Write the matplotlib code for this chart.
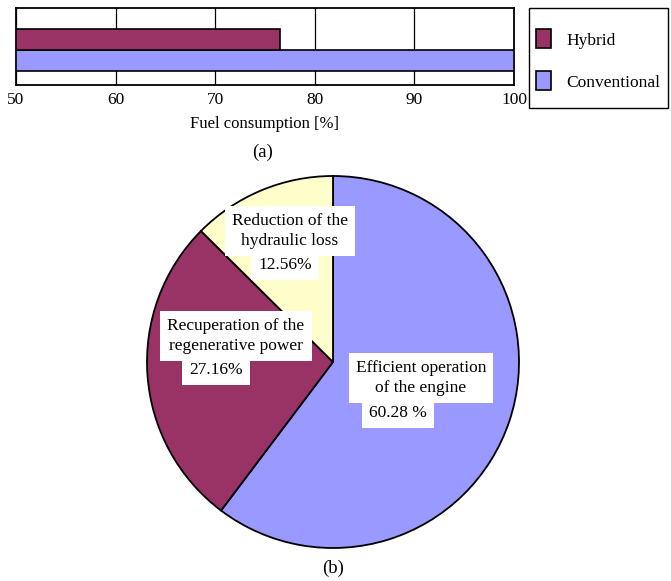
import numpy as np
import matplotlib.pyplot as plt
from matplotlib.patches import Patch, Rectangle

plt.rcParams['font.family'] = ['Liberation Serif', 'DejaVu Serif']

# fuel consumption comparison
bar_names = ['Conventional', 'Hybrid']
bar_values = [100.0, 76.5]
bar_colors = ['#9999ff', '#993366']
x_ticks = [50, 60, 70, 80, 90, 100]

# share of the fuel saving
pie_labels = ['Efficient operation\nof the engine',
              'Recuperation of the\nregenerative power',
              'Reduction of the\nhydraulic loss']
pie_values = [60.28, 27.16, 12.56]
pie_pct_fmt = ['{:.2f} %', '{:.2f}%', '{:.2f}%']
pie_colors = ['#9999ff', '#993366', '#ffffcc']

W, H = 671, 581
fig = plt.figure(figsize=(W / 100, H / 100), dpi=100)

def frac(x0, y0, x1, y1):
    return [x0 / W, 1 - y1 / H, (x1 - x0) / W, (y1 - y0) / H]

# (a) horizontal bars
ax = fig.add_axes(frac(16, 8, 514, 85))
ypos = np.arange(len(bar_values))
ax.barh(ypos, np.array(bar_values) - 50, left=50, height=1.0,
        color=bar_colors, edgecolor='black', linewidth=1.2, zorder=3)
ax.set_xlim(50, 100)
ax.set_ylim(-1.167, 2.5)
ax.set_xticks(x_ticks)
ax.set_yticks([])
ax.tick_params(axis='x', length=0, labelsize=12.5, pad=5)
ax.grid(axis='x', color='black', linewidth=0.9, zorder=0)
for s in ax.spines.values():
    s.set_linewidth(1.3)
ax.set_xlabel('Fuel consumption [%]', fontsize=12, labelpad=6)

# legend drawn in its own frame
fig.patches.append(Rectangle((529 / W, 1 - 108 / H), 139 / W, 100 / H,
                             transform=fig.transFigure, facecolor='white',
                             edgecolor='black', linewidth=1.0))
handles = [Patch(facecolor=bar_colors[1], edgecolor='black', linewidth=1.2,
                 label=bar_names[1]),
           Patch(facecolor=bar_colors[0], edgecolor='black', linewidth=1.2,
                 label=bar_names[0])]
leg = fig.legend(handles=handles, loc='center',
                 bbox_to_anchor=(598 / W, 1 - 60 / H),
                 fontsize=12.5, frameon=False, handlelength=0.85,
                 handleheight=1.3, labelspacing=1.3, borderpad=0,
                 handletextpad=0.9, borderaxespad=0)

fig.text(263 / W, 1 - 152 / H, '(a)', ha='center', va='center', fontsize=13.5)

# (b) pie
R = 186
cx, cy = 333, 362
pax = fig.add_axes(frac(cx - R, cy - R, cx + R, cy + R))
pax.pie(pie_values, colors=pie_colors, startangle=90, counterclock=False,
        wedgeprops=dict(edgecolor='black', linewidth=1.3))
pax.set_xlim(-1, 1)
pax.set_ylim(-1, 1)

box = dict(facecolor='white', edgecolor='none', pad=5)
label_pos = [(421, 378), (236, 336), (290, 231)]
pct_pos = [(398, 413), (216, 370), (285, 265)]
for lab, v, fmt, (lx, ly), (px, py) in zip(pie_labels, pie_values, pie_pct_fmt,
                                            label_pos, pct_pos):
    fig.text(px / W, 1 - py / H, fmt.format(v), ha='center', va='center',
             fontsize=12.5, bbox=box)
    fig.text(lx / W, 1 - ly / H, lab, ha='center', va='center',
             fontsize=12.5, linespacing=1.3, bbox=box)

fig.text(333 / W, 1 - 568 / H, '(b)', ha='center', va='center', fontsize=13.5)

plt.savefig('out.png', dpi=100)
